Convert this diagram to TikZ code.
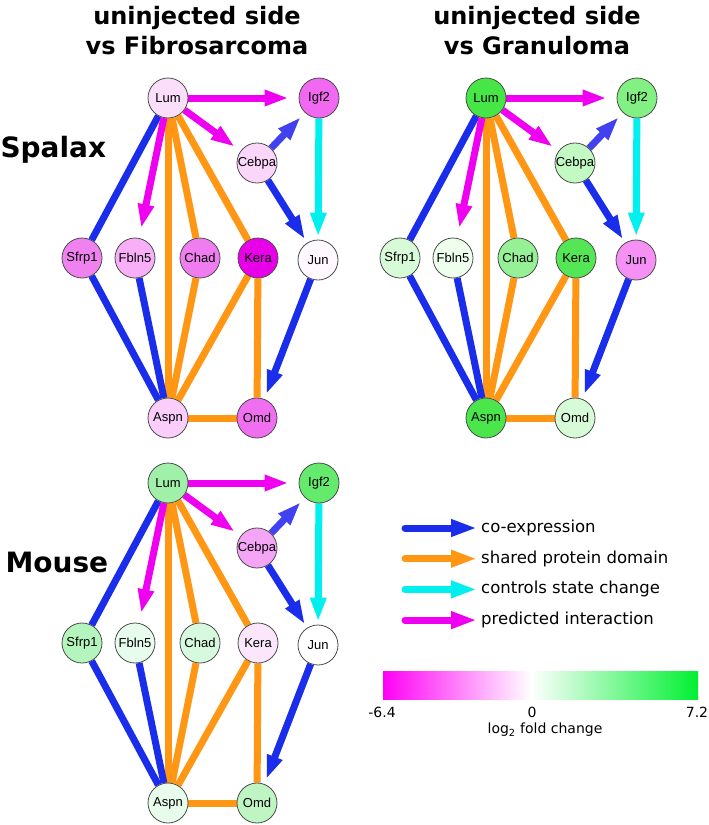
\documentclass[tikz,border=0pt]{standalone}
\usepackage{fontspec}
\setmainfont{DejaVu Sans}
\newfontfamily\genefont{Liberation Sans}
\usetikzlibrary{arrows.meta,backgrounds}

% edge colours
\definecolor{coexpblue}{RGB}{25,45,235}
\definecolor{coexplight}{RGB}{65,65,240}
\definecolor{domainorange}{RGB}{255,150,20}
\definecolor{statecyan}{RGB}{0,240,240}
\definecolor{predmagenta}{RGB}{240,0,240}
\definecolor{barmagenta}{RGB}{255,0,245}
\definecolor{bargreen}{RGB}{0,240,50}

% node fills: spalax fibrosarcoma
\definecolor{sfLum}{RGB}{250,222,250}  \definecolor{sfIgf2}{RGB}{240,105,240}
\definecolor{sfCebpa}{RGB}{250,215,250}\definecolor{sfSfrp1}{RGB}{240,130,240}
\definecolor{sfFbln5}{RGB}{248,175,248}\definecolor{sfChad}{RGB}{240,125,240}
\definecolor{sfKera}{RGB}{232,0,232}   \definecolor{sfJun}{RGB}{255,248,255}
\definecolor{sfAspn}{RGB}{250,205,250} \definecolor{sfOmd}{RGB}{240,110,240}
% spalax granuloma
\definecolor{sgLum}{RGB}{70,230,70}    \definecolor{sgIgf2}{RGB}{130,240,130}
\definecolor{sgCebpa}{RGB}{195,250,195}\definecolor{sgSfrp1}{RGB}{215,250,215}
\definecolor{sgFbln5}{RGB}{238,255,238}\definecolor{sgChad}{RGB}{150,240,150}
\definecolor{sgKera}{RGB}{85,230,85}   \definecolor{sgJun}{RGB}{245,145,245}
\definecolor{sgAspn}{RGB}{75,230,75}   \definecolor{sgOmd}{RGB}{215,250,215}
% mouse fibrosarcoma
\definecolor{mfLum}{RGB}{160,240,170}  \definecolor{mfIgf2}{RGB}{100,235,110}
\definecolor{mfCebpa}{RGB}{245,165,245}\definecolor{mfSfrp1}{RGB}{180,245,190}
\definecolor{mfFbln5}{RGB}{232,252,238}\definecolor{mfChad}{RGB}{215,250,222}
\definecolor{mfKera}{RGB}{252,230,252} \definecolor{mfJun}{RGB}{255,255,255}
\definecolor{mfAspn}{RGB}{232,252,235} \definecolor{mfOmd}{RGB}{190,245,195}

\tikzset{
  gene/.style = {circle, draw=black!70, line width=0.8pt, minimum size=40pt,
    inner sep=0pt, font=\genefont\fontsize{13}{15}\selectfont},
  link/.style = {line width=7pt},
  coexpline/.style = {link, draw=coexpblue},
  domainline/.style = {link, draw=domainorange},
  stateline/.style = {link, draw=statecyan},
  predline/.style = {link, draw=predmagenta},
  headed/.style = {-{Triangle[length=24pt, width=15pt]}, shorten >=#1},
  headed/.default = 5pt,
  legarrow/.style = {line width=7pt, line cap=round,
    -{Triangle[length=26pt, width=16pt]}},
  title/.style = {align=center, font=\bfseries\fontsize{24}{30}\selectfont},
  species/.style = {anchor=west, font=\bfseries\fontsize{28}{32}\selectfont},
  legtext/.style = {anchor=west, inner sep=4pt, font=\fontsize{16.5}{19}\selectfont},
  bartext/.style = {font=\fontsize{14}{16}\selectfont}
}

\newcommand{\genenet}[1]{%
  \node[gene, fill=#1Lum]   (lum)   at (0,0)     {Lum};
  \node[gene, fill=#1Igf2]  (igf2)  at (151,0)   {Igf2};
  \node[gene, fill=#1Cebpa] (cebpa) at (89,65)   {Cebpa};
  \node[gene, fill=#1Sfrp1] (sfrp1) at (-86,160) {Sfrp1};
  \node[gene, fill=#1Fbln5] (fbln5) at (-33,160) {Fbln5};
  \node[gene, fill=#1Chad]  (chad)  at (32,160)  {Chad};
  \node[gene, fill=#1Kera]  (kera)  at (90,160)  {Kera};
  \node[gene, fill=#1Jun]   (jun)   at (150,162) {Jun};
  \node[gene, fill=#1Aspn]  (aspn)  at (0,320)   {Aspn};
  \node[gene, fill=#1Omd]   (omd)   at (89,320)  {Omd};
  \begin{scope}[on background layer]
    \draw[domainline] (lum) -- (aspn);
    \draw[domainline] (lum) -- (chad);
    \draw[domainline] (lum) -- (kera);
    \draw[domainline] (chad) -- (aspn);
    \draw[domainline] (kera) -- (aspn);
    \draw[domainline] (kera) -- (omd);
    \draw[domainline] (aspn) -- (omd);
    \draw[coexpline] (lum) -- (sfrp1);
    \draw[coexpline] (sfrp1) -- (aspn);
    \draw[coexpline] (fbln5) -- (aspn);
    \draw[coexpline, headed=4pt] (cebpa) -- (jun);
    \draw[coexpline, headed=5pt] (jun) -- (omd);
    \draw[coexpline, draw=coexplight, headed=6pt] (cebpa) -- (igf2);
    \draw[stateline, headed=3pt] (igf2) -- (jun);
    \draw[predline, headed=10pt] (lum) -- (igf2);
    \draw[predline, headed=7pt] (lum) -- (cebpa);
    \draw[predline, headed=10pt] (lum) -- (fbln5);
  \end{scope}
}

\begin{document}
\begin{tikzpicture}[x=1pt, y=-1pt]
  \useasboundingbox (0,0) rectangle (709,825);
  \begin{scope}[on background layer]
    \fill[white] (0,0) rectangle (709,825);
  \end{scope}

  % column and row titles
  \node[title] (fibtitle) at (197,31) {uninjected side\\vs Fibrosarcoma};
  \node[title] (grantitle) at (537,31) {uninjected side\\vs Granuloma};
  \node[species] (spalax) at (-3,150) {Spalax};
  \node[species] (mouse) at (2,562) {Mouse};

  % three networks
  \begin{scope}[shift={(168,98)}, name prefix=sf-]
    \genenet{sf}
  \end{scope}
  \begin{scope}[shift={(486,98)}, name prefix=sg-]
    \genenet{sg}
  \end{scope}
  \begin{scope}[shift={(168,483)}, name prefix=mf-]
    \genenet{mf}
  \end{scope}

  % legend
  \foreach \sty/\txt [count=\i] in {coexpblue/co-expression,
      domainorange/shared protein domain, statecyan/controls state change,
      predmagenta/predicted interaction} {
    \coordinate (leg\i a) at (405,497.3+30.7*\i);
    \coordinate (leg\i b) at (477,497.3+30.7*\i);
    \draw[legarrow, draw=\sty, fill=\sty] (leg\i a) -- (leg\i b);
    \node[legtext] (legtxt\i) at (leg\i b) {\txt};
  }

  % colour bar
  \shade[left color=barmagenta, right color=white] (383,671) rectangle (531,699);
  \shade[left color=white, right color=bargreen] (531,671) rectangle (698,699);
  \node[bartext] (barmin) at (382,712) {-6.4};
  \node[bartext] (barzero) at (532,712) {0};
  \node[bartext] (barmax) at (697,712) {7.2};
  \node[bartext] (barlabel) at (545,730) {log\textsubscript{2} fold change};
\end{tikzpicture}
\end{document}
